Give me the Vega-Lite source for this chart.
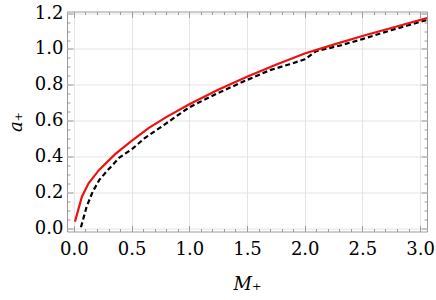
{
  "$schema": "https://vega.github.io/schema/vega-lite/v6.json",
  "width": 360,
  "height": 220,
  "autosize": {"type": "none"},
  "padding": {"left": 67, "top": 11.5, "right": 9, "bottom": 68.5},
  "background": "white",
  "config": {
    "view": {"stroke": "#9a9a9a", "strokeWidth": 1},
    "axis": {
      "domain": false,
      "tickColor": "#9a9a9a",
      "tickWidth": 1,
      "gridColor": "#e4e4e4",
      "gridWidth": 1,
      "labelFont": "DejaVu Serif",
      "labelFontSize": 18,
      "labelColor": "black",
      "titleFont": "DejaVu Serif",
      "titleFontSize": 18,
      "titleFontStyle": "italic",
      "titleFontWeight": "normal",
      "titleColor": "black"
    }
  },
  "datasets": {
    "red": [
      {"M": 0.009, "a": 0.037},
      {"M": 0.069, "a": 0.176},
      {"M": 0.127, "a": 0.251},
      {"M": 0.22, "a": 0.327},
      {"M": 0.36, "a": 0.415},
      {"M": 0.5, "a": 0.487},
      {"M": 0.65, "a": 0.56},
      {"M": 0.8, "a": 0.62},
      {"M": 1.0, "a": 0.692},
      {"M": 1.25, "a": 0.772},
      {"M": 1.5, "a": 0.845},
      {"M": 1.75, "a": 0.912},
      {"M": 2.0, "a": 0.975},
      {"M": 2.25, "a": 1.024},
      {"M": 2.5, "a": 1.072},
      {"M": 2.75, "a": 1.117},
      {"M": 3.06, "a": 1.172}
    ],
    "black": [
      {"M": 0.061, "a": 0.006},
      {"M": 0.11, "a": 0.12},
      {"M": 0.162, "a": 0.203},
      {"M": 0.22, "a": 0.27},
      {"M": 0.307, "a": 0.334},
      {"M": 0.394, "a": 0.394},
      {"M": 0.51, "a": 0.445},
      {"M": 0.61, "a": 0.501},
      {"M": 0.8, "a": 0.585},
      {"M": 1.0, "a": 0.675},
      {"M": 1.25, "a": 0.755},
      {"M": 1.5, "a": 0.827},
      {"M": 1.7, "a": 0.882},
      {"M": 1.87, "a": 0.915},
      {"M": 2.0, "a": 0.942},
      {"M": 2.1, "a": 0.988},
      {"M": 2.3, "a": 1.018},
      {"M": 2.5, "a": 1.055},
      {"M": 2.75, "a": 1.105},
      {"M": 3.06, "a": 1.162}
    ]
  },
  "layer": [
    {
      "data": {"name": "red"},
      "mark": {"type": "line", "opacity": 0},
      "encoding": {
        "x": {"field": "M", "type": "quantitative", "scale": {"domain": [-0.06, 3.06], "nice": false, "zero": false},
          "axis": {"orient": "bottom", "values": [0, 0.5, 1, 1.5, 2, 2.5, 3], "format": ".1f", "ticks": false, "grid": true, "labelPadding": 9, "title": "M₊", "titlePadding": 17}},
        "y": {"field": "a", "type": "quantitative", "scale": {"domain": [-0.018, 1.209], "nice": false, "zero": false},
          "axis": {"orient": "left", "values": [0, 0.2, 0.4, 0.6, 0.8, 1.0, 1.2], "format": ".1f", "ticks": false, "grid": true, "labelPadding": 4, "title": "a₊", "titlePadding": 9}}
      }
    },
    {
      "data": {"name": "red"},
      "mark": {"type": "line", "opacity": 0},
      "encoding": {
        "x": {"field": "M", "type": "quantitative", "scale": {"domain": [-0.06, 3.06], "nice": false, "zero": false},
          "axis": {"orient": "bottom", "values": [0, 0.5, 1, 1.5, 2, 2.5, 3], "labels": false, "grid": false, "tickSize": -6, "title": null}},
        "y": {"field": "a", "type": "quantitative", "scale": {"domain": [-0.018, 1.209], "nice": false, "zero": false},
          "axis": {"orient": "left", "values": [0, 0.2, 0.4, 0.6, 0.8, 1.0, 1.2], "labels": false, "grid": false, "tickSize": -6, "title": null}}
      }
    },
    {
      "data": {"name": "red"},
      "mark": {"type": "line", "opacity": 0},
      "encoding": {
        "x": {"field": "M", "type": "quantitative", "scale": {"domain": [-0.06, 3.06], "nice": false, "zero": false},
          "axis": {"orient": "bottom", "values": [0.1, 0.2, 0.3, 0.4, 0.6, 0.7, 0.8, 0.9, 1.1, 1.2, 1.3, 1.4, 1.6, 1.7, 1.8, 1.9, 2.1, 2.2, 2.3, 2.4, 2.6, 2.7, 2.8, 2.9], "labels": false, "grid": false, "tickSize": -3, "title": null}},
        "y": {"field": "a", "type": "quantitative", "scale": {"domain": [-0.018, 1.209], "nice": false, "zero": false},
          "axis": {"orient": "left", "values": [0.05, 0.1, 0.15, 0.25, 0.3, 0.35, 0.45, 0.5, 0.55, 0.65, 0.7, 0.75, 0.85, 0.9, 0.95, 1.05, 1.1, 1.15], "labels": false, "grid": false, "tickSize": -3, "title": null}}
      }
    },
    {
      "data": {"name": "red"},
      "mark": {"type": "line", "opacity": 0},
      "encoding": {
        "x": {"field": "M", "type": "quantitative", "scale": {"domain": [-0.06, 3.06], "nice": false, "zero": false},
          "axis": {"orient": "top", "values": [0, 0.5, 1, 1.5, 2, 2.5, 3], "labels": false, "grid": false, "tickSize": -6, "title": null}},
        "y": {"field": "a", "type": "quantitative", "scale": {"domain": [-0.018, 1.209], "nice": false, "zero": false},
          "axis": {"orient": "right", "values": [0, 0.2, 0.4, 0.6, 0.8, 1.0, 1.2], "labels": false, "grid": false, "tickSize": -6, "title": null}}
      }
    },
    {
      "data": {"name": "black"},
      "mark": {"type": "line", "color": "black", "strokeWidth": 2.2, "strokeDash": [5, 3], "clip": true},
      "encoding": {
        "x": {"field": "M", "type": "quantitative", "scale": {"domain": [-0.06, 3.06], "nice": false, "zero": false},
          "axis": {"orient": "top", "values": [0.1, 0.2, 0.3, 0.4, 0.6, 0.7, 0.8, 0.9, 1.1, 1.2, 1.3, 1.4, 1.6, 1.7, 1.8, 1.9, 2.1, 2.2, 2.3, 2.4, 2.6, 2.7, 2.8, 2.9], "labels": false, "grid": false, "tickSize": -3, "title": null}},
        "y": {"field": "a", "type": "quantitative", "scale": {"domain": [-0.018, 1.209], "nice": false, "zero": false},
          "axis": {"orient": "right", "values": [0.05, 0.1, 0.15, 0.25, 0.3, 0.35, 0.45, 0.5, 0.55, 0.65, 0.7, 0.75, 0.85, 0.9, 0.95, 1.05, 1.1, 1.15], "labels": false, "grid": false, "tickSize": -3, "title": null}}
      }
    },
    {
      "data": {"name": "red"},
      "mark": {"type": "line", "color": "#ee1111", "strokeWidth": 2.2, "clip": true},
      "encoding": {
        "x": {"field": "M", "type": "quantitative", "scale": {"domain": [-0.06, 3.06], "nice": false, "zero": false}, "axis": null},
        "y": {"field": "a", "type": "quantitative", "scale": {"domain": [-0.018, 1.209], "nice": false, "zero": false}, "axis": null}
      }
    }
  ],
  "resolve": {"scale": {"x": "independent", "y": "independent"}, "axis": {"x": "independent", "y": "independent"}}
}
